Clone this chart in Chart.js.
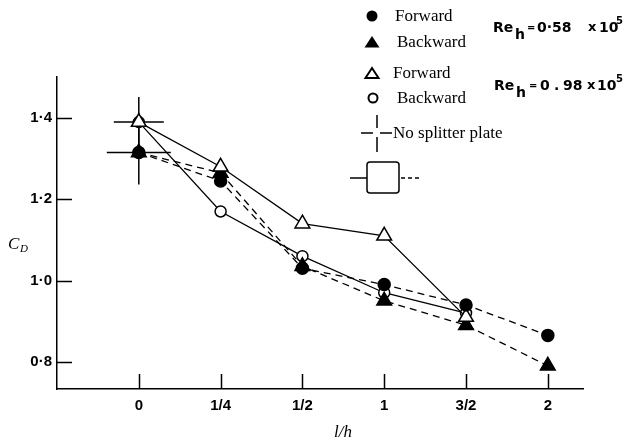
<!DOCTYPE html>
<html>
<head>
<meta charset="utf-8">
<script src="https://cdn.jsdelivr.net/npm/chart.js@4.4.1/dist/chart.umd.min.js"></script>
<style>
  html, body { margin: 0; padding: 0; background: #fff; }
  #wrap { width: 630px; height: 442px; }
</style>
</head>
<body>
<div id="wrap"><canvas id="cdChart" width="630" height="442"></canvas></div>
<script>
// l/h positions along the x axis
const positions = ['0', '1/4', '1/2', '1', '3/2', '2'];
const yTicks = [0.8, 1.0, 1.2, 1.4];

// Re_h = 0.58 x 10^5
const forwardLow = [1.315, 1.245, 1.03, 0.99, 0.94, 0.865];   // filled circle
const backwardLow = [1.315, 1.265, 1.035, 0.95, 0.89, 0.79];  // filled triangle
// Re_h = 0.98 x 10^5
const forwardHigh = [1.39, 1.28, 1.14, 1.11, 0.91];           // open triangle
const backwardHigh = [1.39, 1.17, 1.06, 0.97, 0.92];          // open circle
// no splitter plate (both at l/h = 0)
const noSplitter = [1.39, 1.315];

const toPoints = (arr) => arr.map((y, i) => ({ x: i, y: y }));

const serif = '"Liberation Serif", "DejaVu Serif", serif';
const sans = '"Liberation Sans", "DejaVu Sans", sans-serif';
const reFont = '"DejaVu Sans", sans-serif';

// inward tick marks, axis labels and the legend block
const extras = {
  id: 'extras',
  afterDraw(chart) {
    const ctx = chart.ctx;
    const xs = chart.scales.x, ys = chart.scales.y;
    const area = chart.chartArea;
    ctx.save();
    ctx.strokeStyle = '#000';
    ctx.lineWidth = 1.5;
    ctx.beginPath();
    positions.forEach((p, i) => {
      const px = Math.round(xs.getPixelForValue(i)) + 0.5;
      ctx.moveTo(px, area.bottom);
      ctx.lineTo(px, area.bottom - 15);
    });
    yTicks.forEach(v => {
      const py = Math.round(ys.getPixelForValue(v)) + 0.5;
      ctx.moveTo(area.left, py);
      ctx.lineTo(area.left + 15, py);
    });
    ctx.stroke();

    // axis titles
    ctx.fillStyle = '#000';
    ctx.textBaseline = 'middle';
    ctx.textAlign = 'left';
    ctx.font = 'italic 17px ' + serif;
    ctx.fillText('C', 8, 245);
    ctx.font = 'italic 11px ' + serif;
    ctx.fillText('D', 20, 249);
    ctx.font = 'italic 17px ' + serif;
    ctx.textAlign = 'center';
    ctx.fillText('l/h', 343, 433);

    // legend symbols
    ctx.textAlign = 'left';
    ctx.lineWidth = 2;
    ctx.beginPath(); ctx.arc(372, 16, 5.5, 0, Math.PI * 2); ctx.fill();
    ctx.beginPath(); ctx.moveTo(372, 36); ctx.lineTo(379.5, 47.5); ctx.lineTo(364.5, 47.5); ctx.closePath(); ctx.fill();
    ctx.beginPath(); ctx.moveTo(372, 68); ctx.lineTo(378.5, 78); ctx.lineTo(365.5, 78); ctx.closePath(); ctx.stroke();
    ctx.beginPath(); ctx.arc(373, 98, 4.5, 0, Math.PI * 2); ctx.stroke();
    ctx.lineWidth = 1.5;
    ctx.beginPath();
    ctx.moveTo(377, 115); ctx.lineTo(377, 128);
    ctx.moveTo(377, 137); ctx.lineTo(377, 152);
    ctx.moveTo(361, 133); ctx.lineTo(373, 133);
    ctx.moveTo(380, 133); ctx.lineTo(392, 133);
    ctx.stroke();
    // model cross-section with splitter
    ctx.beginPath();
    ctx.roundRect(367, 162, 32, 31, 3);
    ctx.stroke();
    ctx.beginPath(); ctx.moveTo(350, 178); ctx.lineTo(367, 178); ctx.stroke();
    ctx.setLineDash([4, 3]);
    ctx.beginPath(); ctx.moveTo(401, 178); ctx.lineTo(422, 178); ctx.stroke();
    ctx.setLineDash([]);

    ctx.font = '17px ' + serif;
    ctx.fillText('Forward', 395, 17);
    ctx.fillText('Backward', 397, 43);
    ctx.fillText('Forward', 393, 74);
    ctx.fillText('Backward', 397, 99);
    ctx.fillText('No splitter plate', 393, 134);

    // Reynolds number labels, piece by piece
    const reLabel = (y, pieces) => {
      pieces.forEach(([txt, x, dy, size]) => {
        ctx.font = 'bold ' + size + 'px ' + reFont;
        ctx.fillText(txt, x, y + dy);
      });
    };
    reLabel(28, [['Re', 493, 0, 14], ['h', 515, 7, 14], ['=', 527, 0, 10],
                 ['0·58', 537, 0, 14], ['x', 588, 0, 13], ['10', 599, 0, 14], ['5', 616, -7, 10]]);
    reLabel(86, [['Re', 494, 0, 14], ['h', 516, 7, 14], ['=', 529, 0, 10],
                 ['0', 540, 0, 14], ['.', 554, 0, 14], ['98', 563, 0, 14],
                 ['x', 587, 0, 13], ['10', 597, 0, 14], ['5', 616, -7, 10]]);
    ctx.restore();
  }
};

const base = {
  borderColor: '#000',
  borderWidth: 1.3,
  pointBorderColor: '#000',
  pointBorderWidth: 1.5,
  fill: false,
  tension: 0
};

new Chart(document.getElementById('cdChart'), {
  type: 'line',
  data: {
    datasets: [
      Object.assign({}, base, {
        label: 'Forward 0.58', data: toPoints(forwardLow), borderDash: [7, 5],
        pointStyle: 'circle', pointRadius: 6, pointBackgroundColor: '#000', order: 1
      }),
      Object.assign({}, base, {
        label: 'Backward 0.58', data: toPoints(backwardLow), borderDash: [7, 5],
        pointStyle: 'triangle', pointRadius: 8.5, pointBackgroundColor: '#000', order: 3
      }),
      Object.assign({}, base, {
        label: 'Forward 0.98', data: toPoints(forwardHigh),
        pointStyle: 'triangle', pointRadius: 8.5, pointBackgroundColor: '#fff', order: 2
      }),
      Object.assign({}, base, {
        label: 'Backward 0.98', data: toPoints(backwardHigh),
        pointStyle: 'circle', pointRadius: 5.5, pointBackgroundColor: '#fff', order: 4
      }),
      Object.assign({}, base, {
        label: 'No splitter plate',
        data: noSplitter.map(y => ({ x: 0, y: y })),
        showLine: false, pointStyle: 'cross', pointRadius: [25, 32],
        pointBorderWidth: 1.5, order: 5
      })
    ]
  },
  options: {
    responsive: false,
    animation: false,
    layout: { padding: { top: 77, right: 47, left: 0, bottom: 0 } },
    plugins: { legend: { display: false }, tooltip: { enabled: false } },
    scales: {
      x: {
        type: 'linear', min: -1, max: 5.43,
        grid: { display: false, drawTicks: false },
        border: { display: true, color: '#000', width: 1.5 },
        afterBuildTicks: (s) => { s.ticks = positions.map((p, i) => ({ value: i })); },
        afterFit: (s) => { s.height = 53; },
        ticks: {
          padding: 8, color: '#000', maxRotation: 0, autoSkip: false,
          font: { family: sans, size: 15, weight: 'bold' },
          callback: (v) => positions[v]
        }
      },
      y: {
        type: 'linear', min: 0.733, max: 1.501,
        grid: { display: false, drawTicks: false },
        border: { display: true, color: '#000', width: 1.5 },
        afterBuildTicks: (s) => { s.ticks = yTicks.map(v => ({ value: v })); },
        afterFit: (s) => { s.width = 57; },
        ticks: {
          padding: 5, color: '#000',
          font: { family: sans, size: 15, weight: 'bold' },
          callback: (v) => v.toFixed(1).replace('.', '·')
        }
      }
    }
  },
  plugins: [extras]
});
</script>
</body>
</html>
